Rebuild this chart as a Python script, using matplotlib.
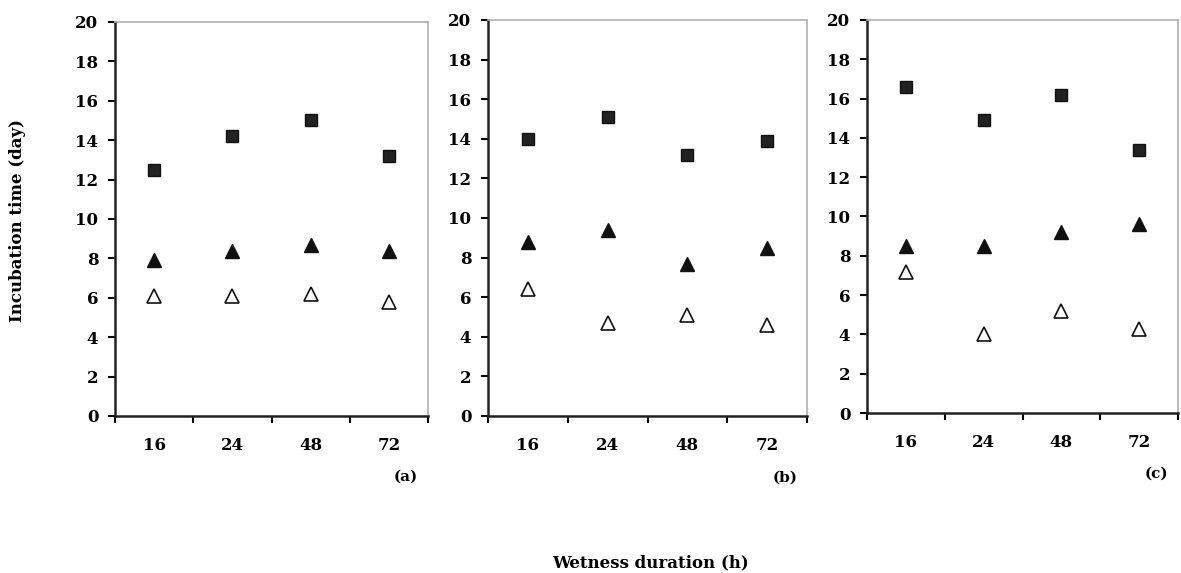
import matplotlib
matplotlib.use("Agg")
import matplotlib.pyplot as plt

plt.rcParams['font.family'] = ['DejaVu Serif']
plt.rcParams['font.weight'] = 'bold'

durations = ["16", "24", "48", "72"]
panel_labels = ["(a)", "(b)", "(c)"]

# Incubation time (days) per wetness duration, three panels
upper_a = [12.5, 14.2, 15.0, 13.2]
mid_a = [7.9, 8.4, 8.7, 8.4]
low_a = [6.1, 6.1, 6.2, 5.8]

upper_b = [14.0, 15.1, 13.2, 13.9]
mid_b = [8.8, 9.4, 7.7, 8.5]
low_b = [6.4, 4.7, 5.1, 4.6]

upper_c = [16.6, 14.9, 16.2, 13.4]
mid_c = [8.5, 8.5, 9.2, 9.6]
low_c = [7.2, 4.0, 5.2, 4.3]

panels = [(upper_a, mid_a, low_a), (upper_b, mid_b, low_b), (upper_c, mid_c, low_c)]

W, H = 1181, 573
fig = plt.figure(figsize=(W / 100, H / 100), dpi=100)

# axes boxes in pixels: left, right, top, bottom
boxes = [(115, 428, 22, 416), (488, 807, 20, 416), (867, 1178, 20, 413)]

for (l, r, t, b), (up, md, lo), lab in zip(boxes, panels, panel_labels):
    ax = fig.add_axes([l / W, 1 - b / H, (r - l) / W, (b - t) / H])
    xs = [i + 0.5 for i in range(len(durations))]
    ax.plot(xs, up, linestyle='none', marker='s', markersize=9,
            color='#222222', markeredgecolor='#111111')
    ax.plot(xs, md, linestyle='none', marker='^', markersize=10,
            color='#111111')
    ax.plot(xs, lo, linestyle='none', marker='^', markersize=10,
            markerfacecolor='white', markeredgecolor='#111111', markeredgewidth=1.2)
    ax.set_xlim(0, 4)
    ax.set_ylim(0, 20)
    ax.set_yticks(range(0, 21, 2))
    ax.set_xticks([0, 1, 2, 3, 4])
    ax.set_xticklabels([])
    ax.set_xticks(xs, minor=True)
    ax.set_xticklabels(durations, minor=True)
    ax.tick_params(axis='x', which='minor', length=0, pad=15, labelsize=12)
    ax.tick_params(axis='x', which='major', direction='out', length=5, width=1.5)
    ax.tick_params(axis='y', direction='out', length=5, width=1.5, labelsize=12, pad=7)
    for s in ('left', 'bottom'):
        ax.spines[s].set_color('#222222')
        ax.spines[s].set_linewidth(1.8)
    for s in ('top', 'right'):
        ax.spines[s].set_color('#b0b0b0')
        ax.spines[s].set_linewidth(1.2)
    ax.text(0.93, -0.155, lab, transform=ax.transAxes, ha='center', va='center',
            fontsize=11, fontweight='bold')

fig.text(18 / W, 1 - 220 / H, "Incubation time (day)", rotation=90,
         ha='center', va='center', fontsize=12, fontweight='bold')
fig.text(650 / W, 1 - 563 / H, "Wetness duration (h)", ha='center', va='center',
         fontsize=12, fontweight='bold')

fig.savefig("out.png", dpi=100, facecolor='white')
